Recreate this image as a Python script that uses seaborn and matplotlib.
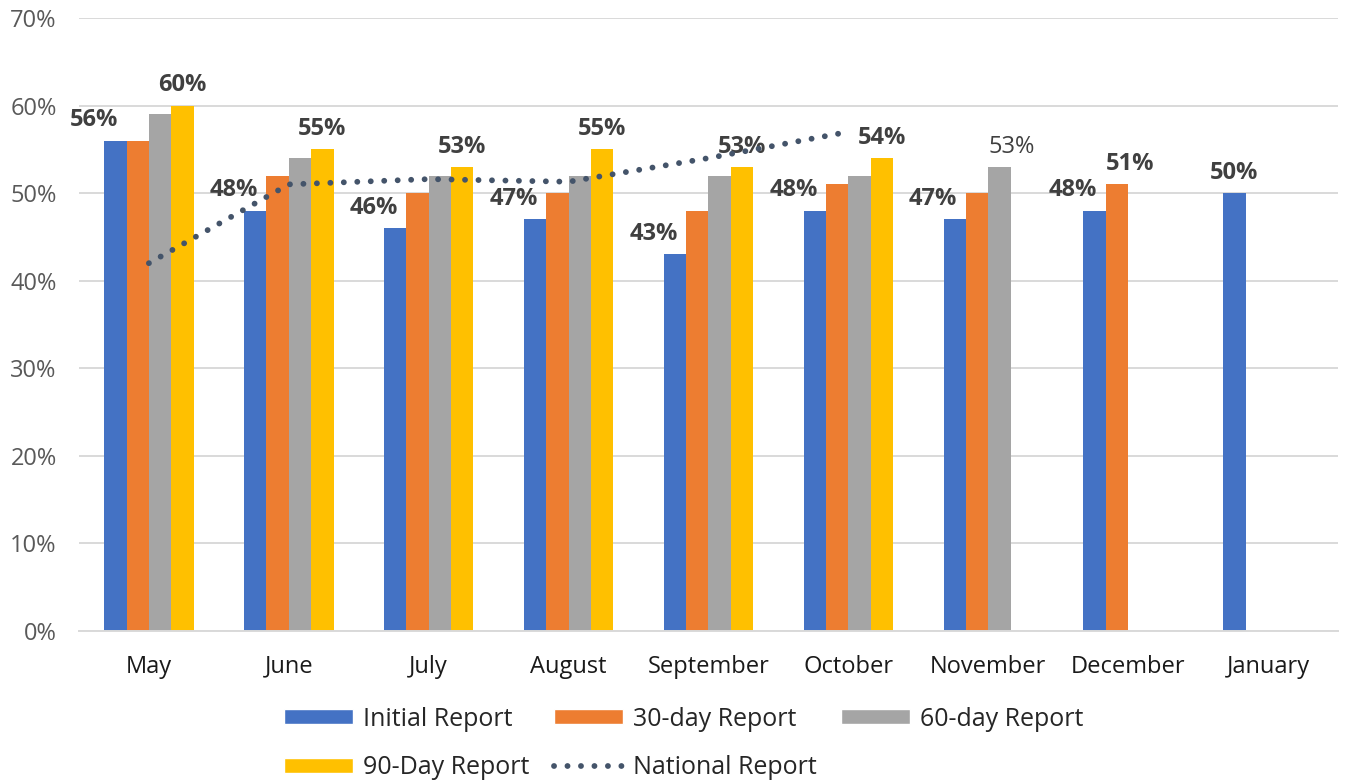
import numpy as np
import pandas as pd
import matplotlib
matplotlib.use('Agg')
import matplotlib.pyplot as plt
from matplotlib.lines import Line2D
from matplotlib.patches import Patch
from matplotlib.ticker import FuncFormatter
import seaborn as sns

# Data (percent)
months = ['May', 'June', 'July', 'August', 'September', 'October',
          'November', 'December', 'January']
series = ['Initial Report', '30-day Report', '60-day Report', '90-Day Report']
initial = [56, 48, 46, 47, 43, 48, 47, 48, 50]
day30 = [56, 52, 50, 50, 48, 51, 50, 51, np.nan]
day60 = [59, 54, 52, 52, 52, 52, 53, np.nan, np.nan]
day90 = [60, 55, 53, 55, 53, 54, np.nan, np.nan, np.nan]
national = [42, 51, 51.6, 51.3, 54, 57, np.nan, np.nan, np.nan]

colors = ['#4472C4', '#ED7D31', '#A5A5A5', '#FFC000']
line_color = '#44546A'

sns.set_style('white')
plt.rcParams['font.family'] = ['Open Sans', 'DejaVu Sans']

# Long-form table for seaborn
rows = []
for name, vals in zip(series, [initial, day30, day60, day90]):
    for m, v in zip(months, vals):
        rows.append({'month': m, 'report': name, 'value': v})
df = pd.DataFrame(rows).dropna()

fig = plt.figure(figsize=(13.45, 7.82), dpi=100)
ax = fig.add_axes([0.0587, 0.1931, 0.9361, 0.7839])

sns.barplot(data=df, x='month', y='value', hue='report', order=months,
            hue_order=series, palette=colors, width=0.64, gap=0,
            saturation=1, linewidth=0, ax=ax, legend=False)

# National report dotted line
dots = (0, (0.01, 2.3))
ax.plot(np.arange(len(months)), national, color=line_color, lw=4.2,
        linestyle=dots, dash_capstyle='round', zorder=5)

# Data labels: initial report + last available report of each month
last_series = {}
for i in range(len(months)):
    for s, vals in enumerate([initial, day30, day60, day90]):
        if not np.isnan(vals[i]):
            last_series[i] = s

for s, cont in enumerate(ax.containers):
    for bar in cont:
        h = bar.get_height()
        if np.isnan(h):
            continue
        cx = bar.get_x() + bar.get_width() / 2
        i = int(round(cx))
        weight = 'bold'
        if s == 0 and last_series[i] != 0:
            ha, xy, dx = 'right', (cx, h), 2
        elif s == last_series[i]:
            if s == 3 or s == 0:
                ha, xy, dx = 'center', (cx, h), 0
            else:
                ha, xy, dx = 'left', (bar.get_x(), h), 0
                if s == 2:
                    weight = 'normal'
        else:
            continue
        ax.annotate(f'{h:.0f}%', xy=xy, xytext=(dx, 6),
                    textcoords='offset points', ha=ha, va='bottom',
                    fontsize=17, fontweight=weight, color='#404040')

ax.set_ylim(0, 70)
ax.set_xlim(-0.5, len(months) - 0.5)
ax.set_yticks(range(0, 71, 10))
ax.yaxis.set_major_formatter(FuncFormatter(lambda v, p: f'{v:.0f}%'))
ax.set_xlabel('')
ax.set_ylabel('')
ax.tick_params(axis='y', length=0, pad=16, labelsize=17, labelcolor='#595959')
ax.tick_params(axis='x', length=0, pad=17, labelsize=17, labelcolor='#1a1a1a')

ax.yaxis.grid(True, color='#d9d9d9', lw=1.4)
ax.set_axisbelow(True)
for side in ['top', 'left', 'right']:
    ax.spines[side].set_visible(False)
ax.spines['bottom'].set_color('#d9d9d9')
ax.spines['bottom'].set_linewidth(1.4)

# Legend (row-major order in 3 columns)
patches = [Patch(facecolor=c, label=s) for c, s in zip(colors, series)]
nat = Line2D([], [], color=line_color, lw=4.2, linestyle=dots,
             dash_capstyle='round', label='National Report')
handles = [patches[0], patches[3], patches[1], nat, patches[2]]
fig.legend(handles=handles, loc='upper left', bbox_to_anchor=(0.211, 0.0965),
           ncol=3, frameon=False, fontsize=18, handlelength=2.75,
           handleheight=0.55, handletextpad=0.4, columnspacing=1.0,
           labelspacing=0.95, borderpad=0, borderaxespad=0)

fig.savefig('out.png', dpi=100)
